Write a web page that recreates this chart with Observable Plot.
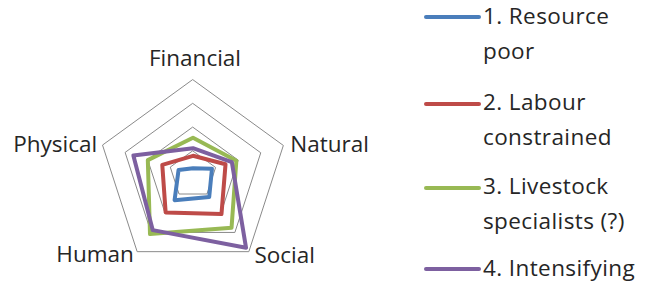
<!DOCTYPE html>
<html>
<head>
<meta charset="utf-8">
<script src="https://cdn.jsdelivr.net/npm/d3@7"></script>
<script src="https://cdn.jsdelivr.net/npm/@observablehq/plot@0.6"></script>
<style>
  html, body { margin: 0; padding: 0; background: #fff; }
  #wrap { position: relative; width: 650px; height: 283px; overflow: hidden; font-family: "Open Sans", sans-serif; }
  #chart { position: absolute; left: 0; top: 0; }
  .item { position: absolute; left: 483px; width: 165px; font-size: 22.5px; line-height: 35px; color: #262626; letter-spacing: 0.4px; }
  .sw { position: absolute; left: 424px; width: 57px; height: 4px; border-radius: 2px; }
</style>
</head>
<body>
<div id="wrap"><div id="chart"></div></div>
<script>
// ---- data ----
const axes = ["Financial", "Natural", "Social", "Human", "Physical"];
const seriesNames = ["1. Resource poor", "2. Labour constrained", "3. Livestock specialists (?)", "4. Intensifying"];
const resourcePoor        = [0.07, 0.21, 0.29, 0.33, 0.16];
const labourConstrained   = [0.20, 0.36, 0.51, 0.49, 0.34];
const livestockSpecialist = [0.39, 0.48, 0.69, 0.77, 0.50];
const intensifying        = [0.28, 0.43, 0.95, 0.72, 0.66];
const ringLevels = [0.25, 0.5, 0.75, 1];
const seriesColors = ["#4A7EBB", "#BE4B48", "#98B954", "#7D60A0"];

// ---- build tables ----
const allValues = [resourcePoor, labourConstrained, livestockSpecialist, intensifying];
const angle = a => axes.indexOf(a) * 2 * Math.PI / axes.length;
const pts = [];
seriesNames.forEach((s, k) => axes.forEach((a, i) => pts.push({series: s, axis: a, value: allValues[k][i]})));
const rings = [];
ringLevels.forEach(r => axes.forEach(a => rings.push({ring: r, axis: a, value: r})));
const labels = axes.map(a => ({axis: a, value: 1}));
const X = d => d.value * Math.sin(angle(d.axis));
const Y = d => d.value * Math.cos(angle(d.axis));

const W = 420, H = 283, cx = 192.5, cy = 174.3, R = 95;
const txt = (names, opts) => Plot.text(labels.filter(d => names.includes(d.axis)), {
  x: X, y: Y, text: "axis", fontSize: 22.5, fill: "#262626", lineAnchor: "middle", ...opts
});

const chart = Plot.plot({
  width: W, height: H,
  margin: 0,
  x: {domain: [-cx / R, (W - cx) / R], axis: null},
  y: {domain: [-(H - cy) / R, cy / R], axis: null},
  color: {domain: seriesNames, range: seriesColors},
  style: {fontFamily: "Open Sans", background: "transparent"},
  marks: [
    Plot.line(rings, {x: X, y: Y, z: "ring", curve: "linear-closed", stroke: "#8a8a8a", strokeWidth: 1}),
    Plot.line(pts, {x: X, y: Y, z: "series", stroke: "series", curve: "linear-closed", strokeWidth: 4, strokeLinejoin: "round"}),
    txt(["Financial"], {textAnchor: "middle", dx: 2, dy: -20.7}),
    txt(["Natural"], {textAnchor: "start", dx: 7, dy: -0.7}),
    txt(["Physical"], {textAnchor: "end", dx: -5.5, dy: -0.7}),
    txt(["Social"], {textAnchor: "start", dx: 5.6, dy: 3.7}),
    txt(["Human"], {textAnchor: "end", dx: -3.3, dy: 3.1})
  ]
});
document.getElementById("chart").appendChild(chart);

// ---- legend ----
const wrap = document.getElementById("wrap");
const legendBaselines = [24.4, 110.5, 194.5, 276.3];
seriesNames.forEach((s, i) => {
  const baseline = legendBaselines[i];
  const sw = document.createElement("div");
  sw.className = "sw";
  sw.style.top = (baseline - 9) + "px";
  sw.style.background = seriesColors[i];
  wrap.appendChild(sw);
  const it = document.createElement("div");
  it.className = "item";
  it.style.top = (baseline - 26.2) + "px";
  it.textContent = s;
  wrap.appendChild(it);
});
</script>
</body>
</html>
